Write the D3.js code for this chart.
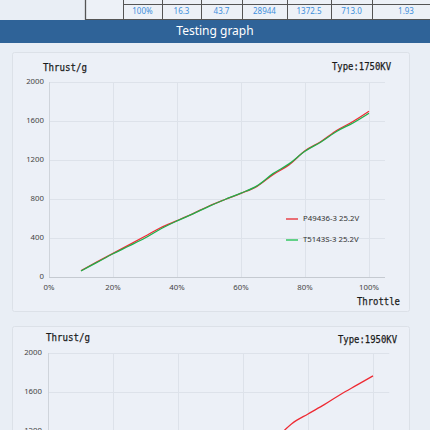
<!DOCTYPE html>
<html><head><meta charset="utf-8">
<script src="https://cdn.jsdelivr.net/npm/d3@7"></script>
<style>
html,body{margin:0;padding:0;background:#e9eef5;overflow:hidden;}
svg{display:block;}
</style></head>
<body>
<script>
// ---- data ----
const tableRow = ["100%", "16.3", "43.7", "28944", "1372.5", "713.0", "1.93"];
const headerTitle = "Testing graph";
const throttle = [10,15,20,25,30,35,40,45,50,55,60,65,70,75,80,85,90,95,100];
const chart1Type = "Type:1750KV";
const chart1Red   = [65,155,243,330,418,508,578,650,728,795,858,930,1050,1150,1295,1390,1505,1595,1700];
const chart1Green = [62,150,238,318,400,495,575,648,725,795,860,935,1060,1160,1290,1385,1495,1580,1680];
const chart2Type = "Type:1950KV";
const chart2Red   = [70,160,255,345,435,530,610,690,770,845,915,1000,1120,1275,1375,1470,1575,1670,1765];
const seriesNames = ["P49436-3 25.2V", "T5143S-3 25.2V"];
const yTicks = [0,400,800,1200,1600,2000];
const xTicks = [0,0.2,0.4,0.6,0.8,1.0];
const xTickLabels = ["0%","20%","40%","60%","80%","100%"];

const W = 430, H = 430;
const svg = d3.select("body").append("svg").attr("width", W).attr("height", H);
svg.append("rect").attr("width", W).attr("height", H).attr("fill", "#e9eef5");

// ---- top table fragment ----
const colX = [85,123,162,201,242,287,331,372,440];
const tbl = svg.append("g");
tbl.append("rect").attr("x",85).attr("y",-2).attr("width",360).attr("height",21.5).attr("fill","#edf1f7");
tbl.append("line").attr("x1",123).attr("x2",440).attr("y1",4.5).attr("y2",4.5).attr("stroke","#555").attr("stroke-width",1);
tbl.append("line").attr("x1",85).attr("x2",440).attr("y1",19.5).attr("y2",19.5).attr("stroke","#555").attr("stroke-width",1);
colX.slice(0,8).forEach((x,i)=>{
  tbl.append("line").attr("x1",x+0.5).attr("x2",x+0.5).attr("y1",-2).attr("y2",20)
    .attr("stroke","#555").attr("stroke-width", i===0?1.3:1);
});
tableRow.forEach((t,i)=>{
  tbl.append("text").attr("x",(colX[i+1]+colX[i+2])/2).attr("y",12.3)
    .attr("text-anchor","middle").attr("dominant-baseline","middle")
    .attr("font-family","'Noto Sans',sans-serif").attr("font-size",8)
    .attr("fill","#3d8fdc").text(t);
});

// ---- header bar ----
svg.append("rect").attr("x",0).attr("y",20).attr("width",W).attr("height",23).attr("fill","#2f6398");
svg.append("text").attr("x",215).attr("y",32).attr("text-anchor","middle").attr("dominant-baseline","middle")
  .attr("font-family","'Noto Sans',sans-serif").attr("font-size",12).attr("fill","#ffffff").text(headerTitle);

// ---- chart drawing ----
function drawChart(cfg){
  const g = svg.append("g");
  g.append("rect").attr("x",cfg.cardX+0.5).attr("y",cfg.cardY+0.5).attr("width",cfg.cardW).attr("height",cfg.cardH)
    .attr("fill","#ecf0f7").attr("stroke","#dce1e8").attr("stroke-width",1).attr("rx",2);

  const x = d3.scaleLinear().domain([0,1]).range([cfg.x0, cfg.x100]);
  const y = d3.scaleLinear().domain([0,2000]).range([cfg.y0, cfg.y0 - 5*cfg.yStep]);
  const xEnd = x(1.05);

  // gridlines
  g.append("g").selectAll("line").data(yTicks.slice(1)).join("line")
    .attr("x1",cfg.x0).attr("x2",xEnd).attr("y1",d=>Math.round(y(d))+0.5).attr("y2",d=>Math.round(y(d))+0.5)
    .attr("stroke","#dde2ea").attr("stroke-width",1);
  g.append("g").selectAll("line").data(xTicks.slice(1)).join("line")
    .attr("x1",d=>Math.round(x(d))+0.5).attr("x2",d=>Math.round(x(d))+0.5).attr("y1",y(2000)).attr("y2",cfg.y0)
    .attr("stroke","#dde2ea").attr("stroke-width",1);
  // axis lines
  g.append("line").attr("x1",cfg.x0+0.5).attr("x2",cfg.x0+0.5).attr("y1",y(2000)).attr("y2",cfg.y0)
    .attr("stroke","#cfd4db").attr("stroke-width",1);
  g.append("line").attr("x1",cfg.x0).attr("x2",xEnd).attr("y1",Math.round(cfg.y0)+0.5).attr("y2",Math.round(cfg.y0)+0.5)
    .attr("stroke","#c5cad1").attr("stroke-width",1.2);

  // tick labels (only those inside the window)
  g.append("g").selectAll("text").data(yTicks.filter(d=>y(d) < H+4)).join("text")
    .attr("x",cfg.yLabelX).attr("y",d=>y(d)).attr("text-anchor","end").attr("dominant-baseline","middle")
    .attr("font-family","'Noto Sans',sans-serif").attr("font-size",7.8).attr("fill","#444").text(d=>d);
  if (cfg.y0 + 11 < H) {
    g.append("g").selectAll("text").data(xTicks).join("text")
      .attr("x",d=>x(d)).attr("y",cfg.y0+11).attr("text-anchor","middle").attr("dominant-baseline","middle")
      .attr("font-family","'Noto Sans',sans-serif").attr("font-size",7.8).attr("fill","#444").text((d,i)=>xTickLabels[i]);
  }

  // titles
  const mono = "'DejaVu Sans Mono',monospace";
  const title = (sel)=>sel.attr("dominant-baseline","middle").attr("font-family",mono).attr("font-size",11)
    .attr("fill","#1a1a1a").attr("stroke","#1a1a1a").attr("stroke-width",0.25).attr("lengthAdjust","spacingAndGlyphs");
  g.append("text").attr("x",cfg.titleX).attr("y",cfg.titleY).call(title).attr("textLength",44).text("Thrust/g");
  g.append("text").attr("x",cfg.typeX).attr("y",cfg.typeY).call(title).attr("textLength",59).text(cfg.type);
  if (cfg.showThrottle){
    g.append("text").attr("x",357).attr("y",cfg.y0+25).call(title).attr("textLength",43).text("Throttle");
  }

  // lines
  const clipId = "clip"+cfg.id;
  svg.append("clipPath").attr("id",clipId).append("rect").attr("x",cfg.x0).attr("y",y(2000)-5).attr("width",xEnd-cfg.x0).attr("height",cfg.y0-y(2000)+5);
  const line = d3.line().x((d,i)=>x(throttle[i]/100)).y(d=>y(d)).curve(d3.curveMonotoneX);
  cfg.series.forEach(s=>{
    g.append("path").datum(s.values).attr("d",line).attr("fill","none")
      .attr("stroke",s.color).attr("stroke-width",1.3).attr("clip-path",`url(#${clipId})`);
  });

  // legend
  if (cfg.legend){
    cfg.series.forEach((s,i)=>{
      const ly = cfg.legendY + i*21;
      g.append("line").attr("x1",286).attr("x2",298).attr("y1",ly).attr("y2",ly).attr("stroke",s.legendColor).attr("stroke-width",1.3);
      g.append("text").attr("x",303).attr("y",ly).attr("dominant-baseline","middle")
        .attr("font-family","'Noto Sans',sans-serif").attr("font-size",7.8).attr("fill","#333").text(seriesNames[i]);
    });
  }
}

drawChart({
  id:1, cardX:12, cardY:52, cardW:397, cardH:259,
  x0:49, x100:369, y0:277, yStep:39, yLabelX:44,
  titleX:43, titleY:68, typeX:332, typeY:67, type:chart1Type, showThrottle:true,
  legend:true, legendY:219,
  series:[{values:chart1Red,color:"#ee2b34",legendColor:"#e8282f"},{values:chart1Green,color:"#1fb04a",legendColor:"#18c04c"}]
});
drawChart({
  id:2, cardX:12, cardY:326, cardW:397, cardH:200,
  x0:48, x100:373, y0:548, yStep:39, yLabelX:42,
  titleX:46, titleY:338, typeX:338, typeY:340, type:chart2Type, showThrottle:false,
  legend:false, legendY:0,
  series:[{values:chart2Red,color:"#ee2b34",legendColor:"#e8282f"}]
});
</script>
</body></html>
